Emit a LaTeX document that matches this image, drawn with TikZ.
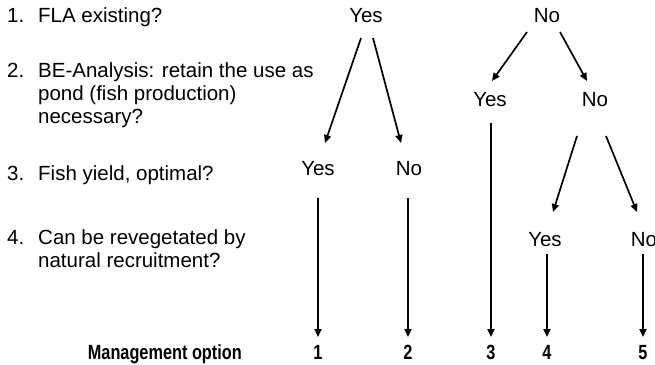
\documentclass[tikz,border=0pt]{standalone}
\usepackage{fontspec}
\setmainfont{Liberation Sans}
\newfontfamily\condbold{Liberation Sans Bold}[FakeStretch=0.795]
\usetikzlibrary{calc,arrows.meta}
\begin{document}
\begin{tikzpicture}[x=1pt,y=-1pt,
  txt/.style={inner sep=0pt,font=\fontsize{20.5}{23}\selectfont},
  lbl/.style={txt,anchor=base},
  lft/.style={txt,anchor=base west},
  opt/.style={inner sep=0pt,anchor=base,font=\fontsize{20.5}{23}\selectfont\condbold},
  arr/.style={line width=1.7pt,-{Triangle[length=8pt,width=7pt]}}]
\useasboundingbox (0,0) rectangle (655,364);
% left questions
\node[lft] (n1) at (7,22) {1.};
\node[lft] (q1) at (38,22) {FLA existing?};
\node[lft] (n2) at (7,77) {2.};
\node[lft] (q2a) at (38,77) {BE-Analysis: retain the use as};
\node[lft] (q2b) at (38,100) {pond (fish production)};
\node[lft] (q2c) at (38,123) {necessary?};
\node[lft] (n3) at (7,180) {3.};
\node[lft] (q3) at (38,180) {Fish yield, optimal?};
\node[lft] (n4) at (7,244) {4.};
\node[lft] (q4a) at (38,244) {Can be revegetated by};
\node[lft] (q4b) at (38,267) {natural recruitment?};
\node[opt,anchor=base east] (mo) at (242,359) {Management option};
% tree labels
\node[lbl] (ty) at (366,22) {Yes};
\node[lbl] (tn) at (547,22) {No};
\node[lbl] (ny) at (490,106) {Yes};
\node[lbl] (nn) at (595,106) {No};
\node[lbl] (yy) at (318,175) {Yes};
\node[lbl] (yn) at (409,175) {No};
\node[lbl] (nny) at (545,246) {Yes};
\node[lbl] (nnn) at (644,246) {No};
% options
\node[opt] (o1) at (318,359) {1};
\node[opt] (o2) at (408,359) {2};
\node[opt] (o3) at (491,359) {3};
\node[opt] (o4) at (547,359) {4};
\node[opt] (o5) at (643,359) {5};
% connectors
\draw[arr] ($(ty.base)+(-5,16)$) -- ($(yy.base)+(7,-32)$);
\draw[arr] ($(ty.base)+(7,16)$) -- ($(yn.base)+(-8,-32)$);
\draw[arr] ($(tn.base)+(-20,10)$) -- ($(ny.base)+(2,-25)$);
\draw[arr] ($(tn.base)+(13,10)$) -- ($(nn.base)+(-8,-25)$);
\draw[arr] ($(nn.base)+(-18,30)$) -- ($(nny.base)+(8,-34)$);
\draw[arr] ($(nn.base)+(11,30)$) -- ($(nnn.base)+(-7,-34)$);
\draw[arr] ($(yy.base)+(0,23)$) -- ($(o1.base)+(0,-22)$);
\draw[arr] ($(yn.base)+(-1,23)$) -- ($(o2.base)+(0,-22)$);
\draw[arr] ($(ny.base)+(1,17)$) -- ($(o3.base)+(0,-22)$);
\draw[arr] ($(nny.base)+(2,8)$) -- ($(o4.base)+(0,-22)$);
\draw[arr] ($(nnn.base)+(-1,8)$) -- ($(o5.base)+(0,-22)$);
\end{tikzpicture}
\end{document}
